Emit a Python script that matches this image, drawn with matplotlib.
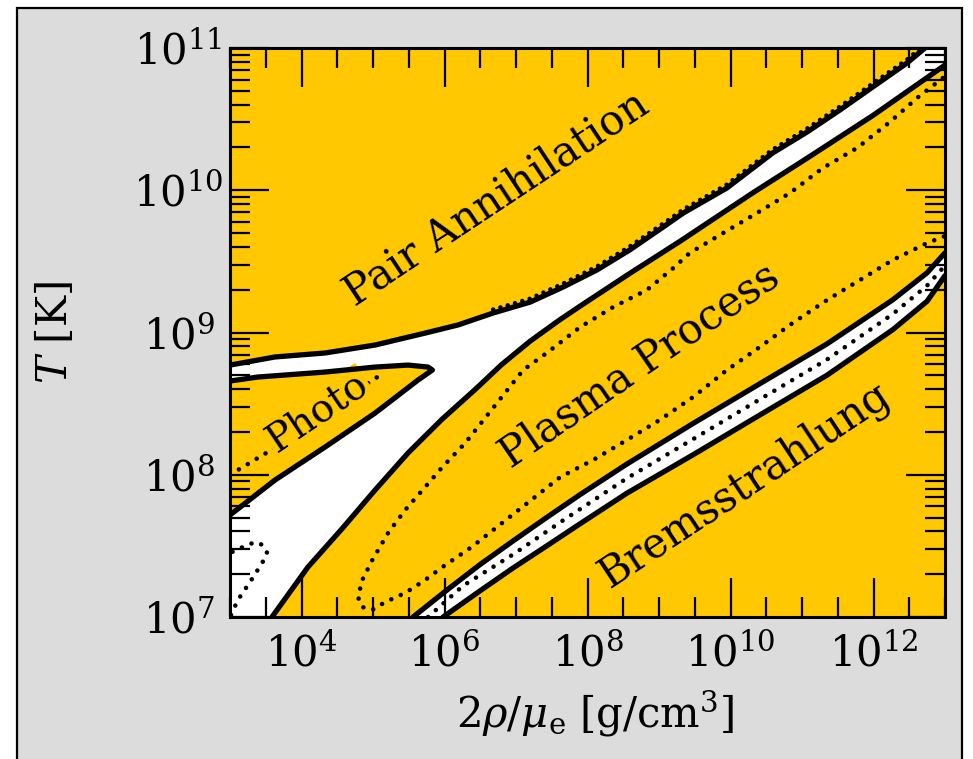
import numpy as np
import matplotlib
matplotlib.use('Agg')
import matplotlib.pyplot as plt
import matplotlib.transforms as mtransforms
from matplotlib.patches import Rectangle
from matplotlib.ticker import FixedLocator, LogLocator, NullFormatter, LogFormatterSciNotation

plt.rcParams['font.family'] = ['DejaVu Serif']
plt.rcParams['mathtext.fontset'] = 'dejavuserif'

# ---- data: log10(2 rho/mu_e) and log10(T) along each boundary ----
# upper boundary of the white band (pair annihilation side)
pair_lx = [3.00, 3.63, 4.33, 5.03, 5.73, 6.19, 6.68, 7.20, 7.66, 8.13, 8.59, 9.06,
           9.34, 9.95, 10.59, 11.07, 11.53, 11.99, 12.47, 12.72, 12.80]
pair_ly = [8.771, 8.828, 8.856, 8.912, 8.996, 9.053, 9.137, 9.214, 9.320, 9.439, 9.580,
           9.742, 9.840, 10.016, 10.262, 10.409, 10.564, 10.726, 10.895, 11.0, 11.05]
# upper boundary of the plasma region
plasma_lx = [3.587, 4.09, 4.566, 5.03, 5.49, 5.965, 6.43, 6.80, 7.20, 7.60, 7.895, 8.59,
             9.29, 10.31, 11.07, 11.99, 13.0]
plasma_ly = [7.0, 7.351, 7.62, 7.893, 8.153, 8.39, 8.60, 8.775, 8.94, 9.085, 9.185, 9.415,
             9.640, 9.981, 10.225, 10.525, 10.88]
# photo-neutrino region (closed outline)
photo_lx = [3.00, 3.39, 4.33, 5.03, 5.49, 5.77, 5.83, 5.63, 5.03, 4.33, 3.63, 3.00]
photo_ly = [8.659, 8.687, 8.722, 8.757, 8.771, 8.757, 8.736, 8.666, 8.434, 8.195, 7.963, 7.717]
# bremsstrahlung band: upper, lower edge and middle dotted line
brems_top_lx = [5.56, 6.035, 6.50, 6.96, 7.43, 7.895, 8.55, 9.475, 10.41, 11.35, 12.27, 12.75, 13.0]
brems_top_ly = [7.0, 7.19, 7.37, 7.535, 7.70, 7.86, 8.075, 8.36, 8.64, 8.92, 9.23, 9.42, 9.56]
brems_bot_lx = [5.98, 6.50, 6.96, 7.43, 7.895, 8.55, 9.475, 10.41, 11.35, 12.27, 12.75, 13.0]
brems_bot_ly = [7.0, 7.185, 7.345, 7.50, 7.655, 7.87, 8.14, 8.42, 8.70, 9.02, 9.22, 9.40]
brems_mid_lx = [5.77, 6.26, 6.96, 7.66, 8.55, 9.475, 10.41, 11.35, 12.27, 12.75, 13.0]
brems_mid_ly = [7.0, 7.22, 7.44, 7.68, 7.975, 8.25, 8.53, 8.81, 9.13, 9.33, 9.47]
# dotted 50% curve inside the plasma region (U shape)
pdot_lx = [12.97, 12.61, 12.23, 11.77, 11.29, 10.83, 10.37, 9.90, 9.43, 9.20, 8.83, 8.36,
           7.90, 7.43, 7.10, 6.29, 5.97, 5.73, 5.45, 5.21, 4.99, 4.85, 4.79, 4.85, 4.99,
           5.17, 5.45, 5.73, 5.97, 6.38, 7.62, 8.08, 8.55, 9.01, 9.48, 9.95, 10.41, 10.87,
           11.35, 11.81, 12.27, 12.75, 13.0]
pdot_ly = [10.789, 10.649, 10.48, 10.297, 10.156, 9.98, 9.84, 9.70, 9.559, 9.453, 9.299,
           9.179, 9.039, 8.856, 8.736, 8.223, 8.054, 7.914, 7.752, 7.59, 7.40, 7.26, 7.14,
           7.07, 7.05, 7.105, 7.169, 7.26, 7.351, 7.492, 7.984, 8.104, 8.244, 8.385, 8.547,
           8.736, 8.898, 9.067, 9.228, 9.369, 9.51, 9.629, 9.678]
# dotted line through the photo region
phdot_lx = [3.0, 3.53, 4.20, 5.07]
phdot_ly = [8.00, 8.16, 8.40, 8.69]
# dotted arc at low density / low temperature
cdot_lx = [3.014, 3.11, 3.28, 3.45, 3.52, 3.46, 3.35, 3.18, 3.0]
cdot_ly = [7.014, 7.12, 7.246, 7.38, 7.45, 7.506, 7.527, 7.492, 7.45]

labels = ['Pair Annihilation', 'Plasma Process', 'Bremsstrahlung', 'Photo']
label_lx = [6.73, 8.73, 10.20, 4.23]
label_ly = [9.945, 8.77, 7.93, 8.44]
label_rot = [33.5, 34.5, 33.5, 34.0]
label_size = [30, 30, 30, 28]

x_major = [1e4, 1e6, 1e8, 1e10, 1e12]
x_minor = 10.0 ** np.arange(3.0, 13.01, 0.5)

GOLD = '#ffc800'
P = lambda a: 10.0 ** np.asarray(a)

fig = plt.figure(figsize=(9.73, 7.59), dpi=100, facecolor='white')
fig.add_artist(Rectangle((16.5 / 973, -0.05), (962 - 16.5) / 973, 1.05 - 7.5 / 759,
                         transform=fig.transFigure, facecolor='#dcdcdc',
                         edgecolor='black', lw=1.6, zorder=0))
ax = fig.add_axes([230 / 973, (759 - 617) / 759, 715 / 973, 569 / 759])
ax.set_facecolor(GOLD)
ax.set_xscale('log')
ax.set_yscale('log')
ax.set_xlim(1e3, 1e13)
ax.set_ylim(1e7, 1e11)

# white band between pair and plasma regions (incl. low-density corner)
wx = np.concatenate([pair_lx, [13.0], plasma_lx[::-1], [3.0]])
wy = np.concatenate([pair_ly, [11.05], plasma_ly[::-1], [7.0]])
ax.fill(P(wx), P(wy), color='white', lw=0, zorder=1)
ax.fill(P(photo_lx), P(photo_ly), color=GOLD, lw=0, zorder=1.1)
bx = np.concatenate([brems_top_lx, brems_bot_lx[::-1]])
by = np.concatenate([brems_top_ly, brems_bot_ly[::-1]])
ax.fill(P(bx), P(by), color='white', lw=0, zorder=1)

dot = dict(color='black', lw=3.3, linestyle=(0, (0.01, 2.25)), dash_capstyle='round', zorder=1.8)
ax.plot(P(pdot_lx), P(pdot_ly), **dot)
ax.plot(P(brems_mid_lx), P(brems_mid_ly), **dot)
ax.plot(P(phdot_lx), P(phdot_ly), **dot)
ax.plot(P(cdot_lx), P(cdot_ly), **dot)
# dotted edge along the pair boundary
trans = mtransforms.offset_copy(ax.transData, fig=fig, x=0, y=3.5, units='dots')
m = np.asarray(pair_lx) >= 6.4
ax.plot(P(pair_lx)[m], P(pair_ly)[m], color='black', lw=3.2,
        linestyle=(0, (0.01, 1.7)), dash_capstyle='round', transform=trans, zorder=1.8)

sol = dict(color='black', lw=3.8, solid_joinstyle='round', solid_capstyle='round', zorder=2)
ax.plot(P(pair_lx), P(pair_ly), **sol)
ax.plot(P(plasma_lx), P(plasma_ly), **sol)
ax.plot(P(photo_lx), P(photo_ly), **sol)
ax.plot(P(brems_top_lx), P(brems_top_ly), **sol)
ax.plot(P(brems_bot_lx), P(brems_bot_ly), **sol)

for t, lx, ly, r, fs in zip(labels, label_lx, label_ly, label_rot, label_size):
    kw = {}
    if t == 'Photo':
        kw['bbox'] = dict(facecolor=GOLD, edgecolor='none', pad=1)
    ax.text(10 ** lx, 10 ** ly, t, rotation=r, rotation_mode='anchor', ha='center',
            va='center', fontsize=fs, color='black', zorder=1.9, **kw)

ax.xaxis.set_major_locator(FixedLocator(x_major))
ax.xaxis.set_minor_locator(FixedLocator(x_minor))
ax.xaxis.set_major_formatter(LogFormatterSciNotation())
ax.xaxis.set_minor_formatter(NullFormatter())
ax.yaxis.set_major_locator(LogLocator(base=10, numticks=20))
ax.yaxis.set_minor_locator(LogLocator(base=10, subs=np.arange(2, 10), numticks=20))
ax.yaxis.set_minor_formatter(NullFormatter())

ax.tick_params(which='both', direction='in', top=True, right=True, width=1.6,
               labelsize=30, color='black')
ax.tick_params(which='major', length=28)
ax.tick_params(which='minor', length=14.5)
ax.tick_params(axis='x', pad=12)
ax.tick_params(axis='y', pad=37)
for lab in ax.get_yticklabels():
    lab.set_horizontalalignment('center')
for s in ax.spines.values():
    s.set_linewidth(2.2)
ax.set_axisbelow(False)

ax.set_xlabel(r'$2\rho/\mu_{\rm e}$ [g/cm$^3$]', fontsize=30)
ax.set_ylabel(r'$T$ [K]', fontsize=30)
ax.xaxis.set_label_coords(0.51, -0.125)
ax.yaxis.set_label_coords(-0.215, 0.5)

fig.savefig('out.png', dpi=100, facecolor='white')
